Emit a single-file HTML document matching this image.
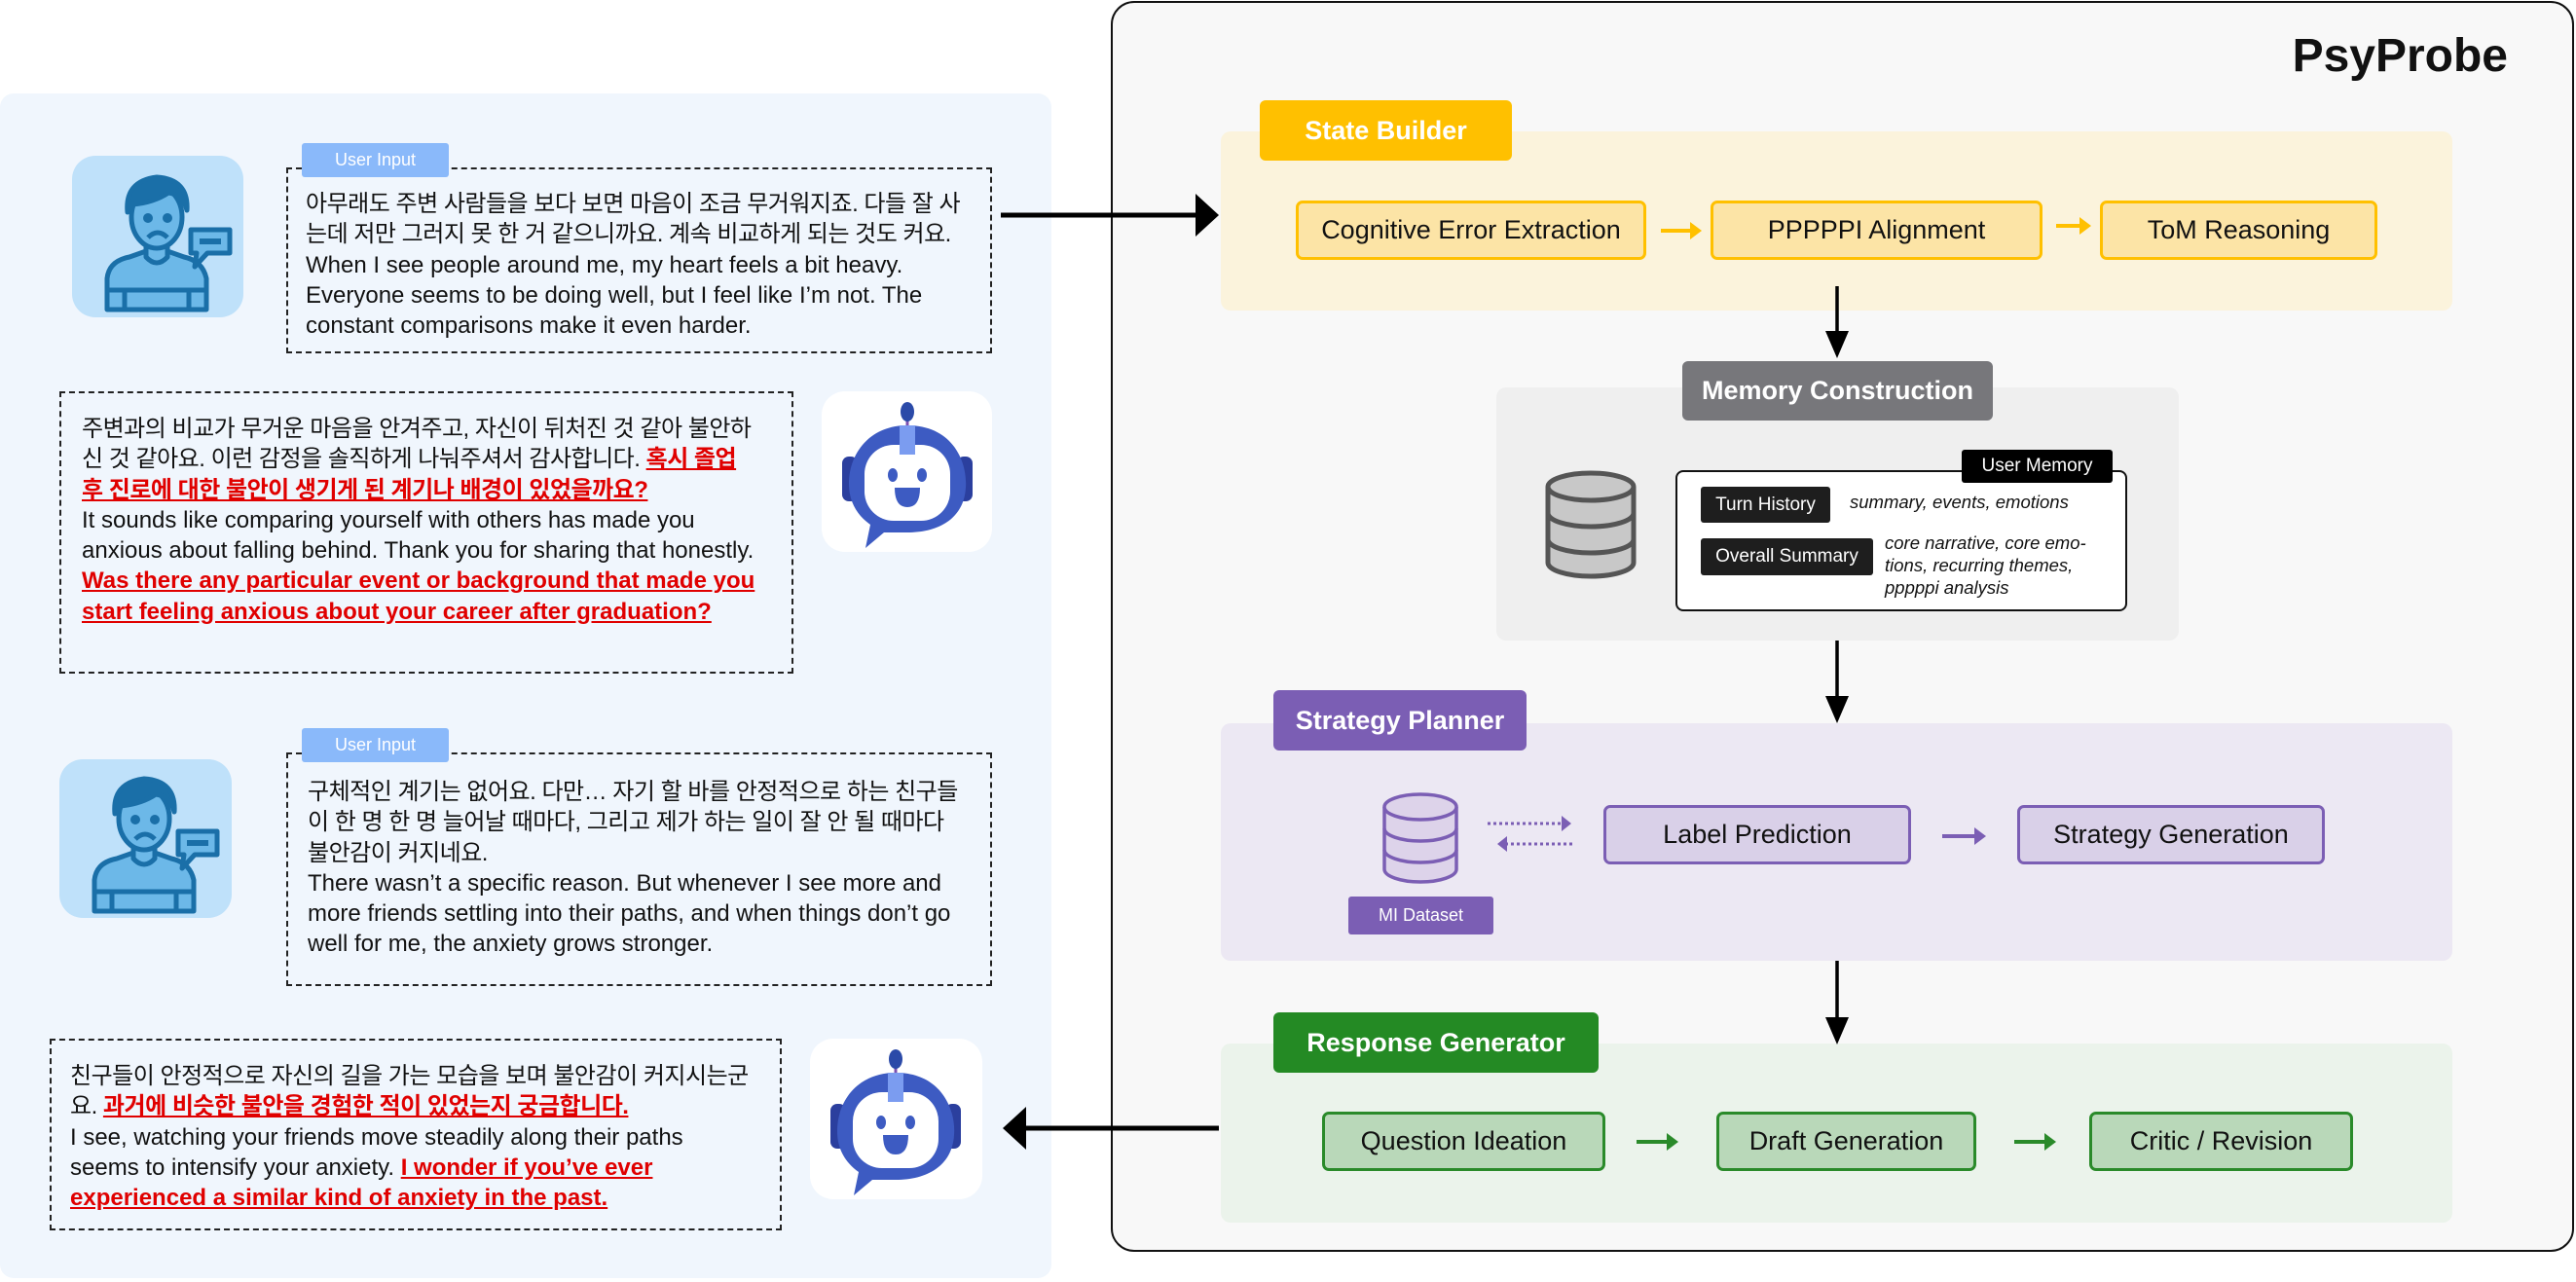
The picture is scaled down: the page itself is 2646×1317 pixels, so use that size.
<!DOCTYPE html>
<html><head><meta charset="utf-8">
<style>
*{margin:0;padding:0;box-sizing:border-box}
body{width:2646px;height:1317px;position:relative;background:#fff;font-family:"Liberation Sans","Noto Sans CJK KR",sans-serif;overflow:hidden}
.a{position:absolute}
.c{position:absolute;display:flex;align-items:center;justify-content:center;text-align:center}
.dash{position:absolute;border:2.5px dashed #222}
.txt{position:absolute;font-size:24px;line-height:31.3px;color:#111;white-space:nowrap}
.ko{letter-spacing:-0.5px}
.r{color:#e00000;font-weight:bold;text-decoration:underline}
.tag{position:absolute;background:#8ab9fa;color:#fff;font-size:18px;display:flex;align-items:center;justify-content:center;border-radius:3px}
.hd{position:absolute;color:#fff;font-weight:bold;font-size:27px;display:flex;align-items:center;justify-content:center;border-radius:6px}
.bx{position:absolute;font-size:27px;color:#111;display:flex;align-items:center;justify-content:center;border-radius:7px;border:3px solid}
.y{background:#fce4a6;border-color:#ffc000}
.p{background:#d9d0e8;border-color:#7b5eb4}
.g{background:#b9d8b9;border-color:#2a8a2a}
</style></head><body>

<div class="a" style="left:0;top:96px;width:1080px;height:1217px;background:#f0f6fd;border-radius:14px"></div>
<div class="a" style="left:1141px;top:1px;width:1503px;height:1285px;background:#f8f8f8;border:2.5px solid #111;border-radius:24px"></div>
<div class="a" style="left:2300px;top:30px;width:276px;text-align:right;font-size:48px;font-weight:bold;color:#111">PsyProbe</div>

<div class="a" style="left:1254px;top:135px;width:1265px;height:184px;background:#fbf3dc;border-radius:10px"></div>
<div class="hd" style="left:1294px;top:103px;width:259px;height:62px;background:#ffc000">State Builder</div>
<div class="bx y" style="left:1331px;top:206px;width:360px;height:61px">Cognitive Error Extraction</div>
<div class="bx y" style="left:1757px;top:206px;width:341px;height:61px">PPPPPI Alignment</div>
<div class="bx y" style="left:2157px;top:206px;width:285px;height:61px">ToM Reasoning</div>

<div class="a" style="left:1537px;top:398px;width:701px;height:260px;background:#efefef;border-radius:10px"></div>
<div class="hd" style="left:1728px;top:371px;width:319px;height:61px;background:#77777b">Memory Construction</div>
<div class="a" style="left:1721px;top:483px;width:464px;height:145px;background:#fff;border:2.5px solid #111;border-radius:8px"></div>
<div class="c" style="left:2015px;top:462px;width:155px;height:34px;background:#000;color:#fff;font-size:19px;border-radius:3px">User Memory</div>
<div class="c" style="left:1747px;top:500px;width:133px;height:37px;background:#1e1e1e;color:#fff;font-size:19px;border-radius:3px">Turn History</div>
<div class="a" style="left:1900px;top:505px;font-size:18.5px;font-style:italic;color:#111">summary, events, emotions</div>
<div class="c" style="left:1747px;top:553px;width:177px;height:38px;background:#1e1e1e;color:#fff;font-size:19px;border-radius:3px">Overall Summary</div>
<div class="a" style="left:1936px;top:546px;font-size:18.5px;line-height:23px;font-style:italic;color:#111">core narrative, core emo-<br>tions, recurring themes,<br>pppppi analysis</div>

<div class="a" style="left:1254px;top:743px;width:1265px;height:244px;background:#ece8f3;border-radius:10px"></div>
<div class="hd" style="left:1308px;top:709px;width:260px;height:62px;background:#7b5eb4">Strategy Planner</div>
<div class="c" style="left:1385px;top:921px;width:149px;height:39px;background:#7b5eb4;color:#fff;font-size:18px;border-radius:3px">MI Dataset</div>
<div class="bx p" style="left:1647px;top:827px;width:316px;height:61px">Label Prediction</div>
<div class="bx p" style="left:2072px;top:827px;width:316px;height:61px">Strategy Generation</div>

<div class="a" style="left:1254px;top:1072px;width:1265px;height:184px;background:#ebf3eb;border-radius:10px"></div>
<div class="hd" style="left:1308px;top:1040px;width:334px;height:62px;background:#248a24">Response Generator</div>
<div class="bx g" style="left:1358px;top:1142px;width:291px;height:61px">Question Ideation</div>
<div class="bx g" style="left:1763px;top:1142px;width:267px;height:61px">Draft Generation</div>
<div class="bx g" style="left:2146px;top:1142px;width:271px;height:61px">Critic / Revision</div>

<div class="dash" style="left:294px;top:172px;width:725px;height:191px"></div>
<div class="tag" style="left:310px;top:147px;width:151px;height:35px">User Input</div>
<div class="txt" style="left:314px;top:194px">
<span class="ko">아무래도 주변 사람들을 보다 보면 마음이 조금 무거워지죠. 다들 잘 사</span><br>
<span class="ko">는데 저만 그러지 못 한 거 같으니까요. 계속 비교하게 되는 것도 커요.</span><br>
When I see people around me, my heart feels a bit heavy.<br>
Everyone seems to be doing well, but I feel like I’m not. The<br>
constant comparisons make it even harder.</div>

<div class="dash" style="left:61px;top:402px;width:754px;height:290px"></div>
<div class="txt" style="left:84px;top:425px">
<span class="ko">주변과의 비교가 무거운 마음을 안겨주고, 자신이 뒤처진 것 같아 불안하</span><br>
<span class="ko">신 것 같아요. 이런 감정을 솔직하게 나눠주셔서 감사합니다. <span class="r">혹시 졸업</span></span><br>
<span class="ko r">후 진로에 대한 불안이 생기게 된 계기나 배경이 있었을까요?</span><br>
It sounds like comparing yourself with others has made you<br>
anxious about falling behind. Thank you for sharing that honestly.<br>
<span class="r">Was there any particular event or background that made you</span><br>
<span class="r">start feeling anxious about your career after graduation?</span></div>

<div class="dash" style="left:294px;top:773px;width:725px;height:240px"></div>
<div class="tag" style="left:310px;top:748px;width:151px;height:35px">User Input</div>
<div class="txt" style="left:316px;top:798px">
<span class="ko">구체적인 계기는 없어요. 다만… 자기 할 바를 안정적으로 하는 친구들</span><br>
<span class="ko">이 한 명 한 명 늘어날 때마다, 그리고 제가 하는 일이 잘 안 될 때마다</span><br>
<span class="ko">불안감이 커지네요.</span><br>
There wasn’t a specific reason. But whenever I see more and<br>
more friends settling into their paths, and when things don’t go<br>
well for me, the anxiety grows stronger.</div>

<div class="dash" style="left:51px;top:1067px;width:752px;height:197px"></div>
<div class="txt" style="left:72px;top:1090px">
<span class="ko">친구들이 안정적으로 자신의 길을 가는 모습을 보며 불안감이 커지시는군</span><br>
<span class="ko">요. <span class="r">과거에 비슷한 불안을 경험한 적이 있었는지 궁금합니다.</span></span><br>
I see, watching your friends move steadily along their paths<br>
seems to intensify your anxiety. <span class="r">I wonder if you’ve ever</span><br>
<span class="r">experienced a similar kind of anxiety in the past.</span></div>

<div class="a" style="left:74px;top:160px;width:176px;height:166px;background:#bfe1fa;border-radius:24px"></div>
<div class="a" style="left:61px;top:780px;width:177px;height:163px;background:#bfe1fa;border-radius:24px"></div>
<div class="a" style="left:844px;top:402px;width:175px;height:165px;background:#fff;border-radius:24px"></div>
<div class="a" style="left:832px;top:1067px;width:177px;height:165px;background:#fff;border-radius:24px"></div>

<svg class="a" style="left:0;top:0" width="2646" height="1317" viewBox="0 0 2646 1317">
<defs>
<g id="person" fill="#6cb8e8" stroke="#1a6fa8" stroke-width="5" stroke-linejoin="round">
  <path d="M22,150 L22,118 Q24,100 45,96 L62,90 L84,90 L101,96 Q120,100 124,118 L124,150 Z"/>
  <path d="M22,130 L124,130 M40,130 L40,150 M106,130 L106,150" fill="none"/>
  <path d="M62,80 L62,96 Q73,108 84,96 L84,80" />
  <ellipse cx="73" cy="55" rx="26" ry="32"/>
  <path d="M43,50 Q40,18 73,14 Q106,16 104,48 Q100,32 85,30 Q70,40 48,42 Z" fill="#1a6fa8"/>
  <circle cx="64" cy="56" r="2.5" fill="#1a6fa8"/><circle cx="84" cy="56" r="2.5" fill="#1a6fa8"/>
  <path d="M64,76 Q74,66 84,76" fill="none"/>
  <path d="M108,68 L148,68 L148,92 L125,92 L112,106 L114,92 L108,92 Z"/>
  <path d="M117,80 L139,80" fill="none" stroke-width="6"/>
</g>
<g id="robot">
  <line x1="88" y1="20" x2="88" y2="38" stroke="#7b4fb0" stroke-width="3"/>
  <ellipse cx="88" cy="18" rx="7" ry="10" fill="#2b4aa8"/>
  <rect x="21" y="64" width="16" height="46" rx="7" fill="#2b3f9e"/>
  <rect x="139" y="64" width="16" height="46" rx="7" fill="#2b3f9e"/>
  <path d="M88,32 C135,32 150,70 148,96 C146,128 120,142 88,142 L64,142 L45,158 L50,134 C36,124 28,110 28,92 C28,60 50,32 88,32 Z" fill="#3d5bc2"/>
  <rect x="44" y="52" width="88" height="78" rx="30" fill="#fff"/>
  <rect x="80" y="32" width="16" height="30" fill="#7b9cf0"/>
  <ellipse cx="73" cy="83" rx="5" ry="7" fill="#3d5bc2"/><ellipse cx="103" cy="83" rx="5" ry="7" fill="#3d5bc2"/>
  <path d="M75,96 L101,96 Q101,116 88,116 Q75,116 75,96 Z" fill="#3d5bc2"/>
</g>
</defs>
<use href="#person" x="88" y="168"/>
<use href="#person" x="75" y="786"/>
<use href="#robot" x="844" y="405"/>
<use href="#robot" x="832" y="1070"/>

<g stroke="#000" fill="#000">
<line x1="1028" y1="221" x2="1235" y2="221" stroke-width="5"/>
<polygon points="1228,199 1252,221 1228,243" stroke="none"/>
<line x1="1252" y1="1159" x2="1048" y2="1159" stroke-width="5"/>
<polygon points="1054,1137 1030,1159 1054,1181" stroke="none"/>
<line x1="1887" y1="294" x2="1887" y2="350" stroke-width="3.5"/>
<polygon points="1875,340 1899,340 1887,368" stroke="none"/>
<line x1="1887" y1="658" x2="1887" y2="725" stroke-width="3.5"/>
<polygon points="1875,715 1899,715 1887,743" stroke="none"/>
<line x1="1887" y1="987" x2="1887" y2="1055" stroke-width="3.5"/>
<polygon points="1875,1045 1899,1045 1887,1073" stroke="none"/>
</g>
<g stroke="#ffc000" fill="#ffc000">
<line x1="1706" y1="237" x2="1738" y2="237" stroke-width="4"/><polygon points="1736,228 1748,237 1736,246" stroke="none"/>
<line x1="2112" y1="232" x2="2138" y2="232" stroke-width="4"/><polygon points="2136,223 2148,232 2136,241" stroke="none"/>
</g>
<g stroke="#7b5eb4" fill="#7b5eb4">
<line x1="1995" y1="859" x2="2030" y2="859" stroke-width="4"/><polygon points="2028,850 2040,859 2028,868" stroke="none"/>
<line x1="1528" y1="846" x2="1606" y2="846" stroke-width="3" stroke-dasharray="3,3"/><polygon points="1604,838 1614,846 1604,854" stroke="none"/>
<line x1="1546" y1="867" x2="1617" y2="867" stroke-width="3" stroke-dasharray="3,3"/><polygon points="1548,859 1538,867 1548,875" stroke="none"/>
</g>
<g stroke="#2a8a2a" fill="#2a8a2a">
<line x1="1681" y1="1173" x2="1714" y2="1173" stroke-width="4"/><polygon points="1712,1164 1724,1173 1712,1182" stroke="none"/>
<line x1="2069" y1="1173" x2="2102" y2="1173" stroke-width="4"/><polygon points="2100,1164 2112,1173 2100,1182" stroke="none"/>
</g>
<g fill="#c8c8c8" stroke="#555" stroke-width="5">
<path d="M1590,500 L1590,578 A44,14 0 0 0 1678,578 L1678,500"/>
<ellipse cx="1634" cy="500" rx="44" ry="14"/>
<path d="M1590,527 A44,14 0 0 0 1678,527 M1590,554 A44,14 0 0 0 1678,554" fill="none"/>
</g>
<g fill="#ddd3ea" stroke="#7b5eb4" stroke-width="3.5">
<path d="M1422,829 L1422,893 A37,13 0 0 0 1496,893 L1496,829"/>
<ellipse cx="1459" cy="829" rx="37" ry="13"/>
<path d="M1422,851 A37,13 0 0 0 1496,851 M1422,873 A37,13 0 0 0 1496,873" fill="none"/>
</g>
</svg>
</body></html>
